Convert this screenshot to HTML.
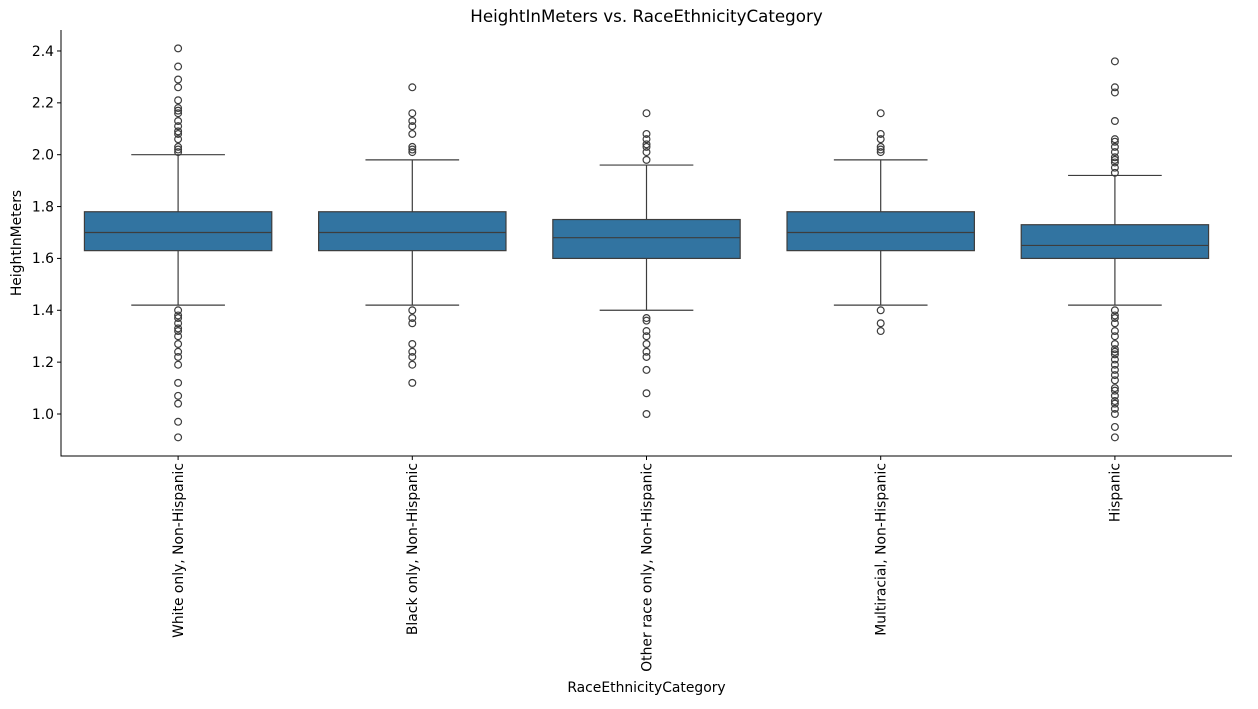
<!DOCTYPE html>
<html><head><meta charset="utf-8"><style>
body{margin:0;background:#fff;}
svg text{font-family:"DejaVu Sans","Liberation Sans",sans-serif;fill:#000;}
</style></head><body>
<svg id="chart" width="1258" height="704" xmlns="http://www.w3.org/2000/svg"></svg>
<script>
const categories=["White only, Non-Hispanic","Black only, Non-Hispanic","Other race only, Non-Hispanic","Multiracial, Non-Hispanic","Hispanic"];
const whiskerLow=[1.42,1.42,1.40,1.42,1.42];
const q1=[1.63,1.63,1.60,1.63,1.60];
const medians=[1.70,1.70,1.68,1.70,1.65];
const q3=[1.78,1.78,1.75,1.78,1.73];
const whiskerHigh=[2.00,1.98,1.96,1.98,1.92];
const outliers=[
 [2.41,2.34,2.29,2.26,2.21,2.18,2.17,2.16,2.13,2.11,2.09,2.08,2.06,2.03,2.02,2.01,1.40,1.38,1.37,1.35,1.33,1.32,1.30,1.27,1.24,1.22,1.19,1.12,1.07,1.04,0.97,0.91],
 [2.26,2.16,2.13,2.11,2.08,2.03,2.02,2.01,1.40,1.37,1.35,1.27,1.24,1.22,1.19,1.12],
 [2.16,2.08,2.06,2.04,2.03,2.01,1.98,1.37,1.36,1.32,1.30,1.27,1.24,1.22,1.17,1.08,1.00],
 [2.16,2.08,2.06,2.03,2.02,2.01,1.40,1.35,1.32],
 [2.36,2.26,2.24,2.13,2.06,2.05,2.03,2.01,1.99,1.98,1.97,1.95,1.93,1.40,1.38,1.37,1.35,1.32,1.30,1.27,1.25,1.24,1.23,1.21,1.19,1.17,1.15,1.13,1.10,1.09,1.07,1.05,1.04,1.02,1.00,0.95,0.91]
];
const yTicks=[1.0,1.2,1.4,1.6,1.8,2.0,2.2,2.4];
const yTickLabels=["1.0","1.2","1.4","1.6","1.8","2.0","2.2","2.4"];

const L=61,R=1232,T=30,B=456;
const y=v=>414-(v-1.0)*259.3;
const band=(R-L)/categories.length;
const x=i=>L+band*(i+0.5);
const svg=document.getElementById('chart');
const NS="http://www.w3.org/2000/svg";
function mk(tag,attrs,parent){const e=document.createElementNS(NS,tag);for(const k in attrs)e.setAttribute(k,attrs[k]);(parent||svg).appendChild(e);return e;}

categories.forEach((c,i)=>{
 const cx=x(i),w=band*0.8,cap=w/2;
 const g=mk('g',{});
 
 
 mk('line',{x1:cx,x2:cx,y1:y(whiskerLow[i]),y2:y(q1[i]),stroke:'#3d3d3d','stroke-width':1.2},g);
 mk('line',{x1:cx,x2:cx,y1:y(q3[i]),y2:y(whiskerHigh[i]),stroke:'#3d3d3d','stroke-width':1.2},g);
 mk('line',{x1:cx-cap/2,x2:cx+cap/2,y1:y(whiskerLow[i]),y2:y(whiskerLow[i]),stroke:'#3d3d3d','stroke-width':1.2},g);
 mk('line',{x1:cx-cap/2,x2:cx+cap/2,y1:y(whiskerHigh[i]),y2:y(whiskerHigh[i]),stroke:'#3d3d3d','stroke-width':1.2},g);
 mk('rect',{x:cx-w/2,y:y(q3[i]),width:w,height:y(q1[i])-y(q3[i]),fill:'#3274a1',stroke:'#3d3d3d','stroke-width':1.2},g);
 mk('line',{x1:cx-w/2,x2:cx+w/2,y1:y(medians[i]),y2:y(medians[i]),stroke:'#3d3d3d','stroke-width':1.2},g);
 outliers[i].forEach(v=>{
  const o=mk('circle',{cx:cx,cy:y(v),r:3.4,fill:'none',stroke:'#3d3d3d','stroke-width':1.2},g);
  
  
 });
 mk('line',{x1:cx,x2:cx,y1:B,y2:B+4,stroke:'#000','stroke-width':1});
 const t=mk('text',{x:0,y:0,'font-size':13.9,'text-anchor':'end',transform:`translate(${cx+4.8},${B+7}) rotate(-90)`});
 t.textContent=c;
 
 
});
yTicks.forEach((v,k)=>{
 mk('line',{x1:L-4,x2:L,y1:y(v),y2:y(v),stroke:'#000','stroke-width':1});
 const t=mk('text',{x:L-7,y:y(v)+4.8,'font-size':13.9,'text-anchor':'end'});
 t.textContent=yTickLabels[k];
 
 
});
const ax=mk('path',{d:`M${L},${T} V${B} H${R}`,fill:'none',stroke:'#000','stroke-width':1});


const title=mk('text',{x:(L+R)/2,y:22,'font-size':16.7,'text-anchor':'middle'});
title.textContent='HeightInMeters vs. RaceEthnicityCategory';


const xl=mk('text',{x:(L+R)/2,y:692,'font-size':13.9,'text-anchor':'middle'});
xl.textContent='RaceEthnicityCategory';


const yl=mk('text',{x:0,y:0,'font-size':13.9,'text-anchor':'middle',transform:`translate(21,${(T+B)/2}) rotate(-90)`});
yl.textContent='HeightInMeters';


</script>
</body></html>
